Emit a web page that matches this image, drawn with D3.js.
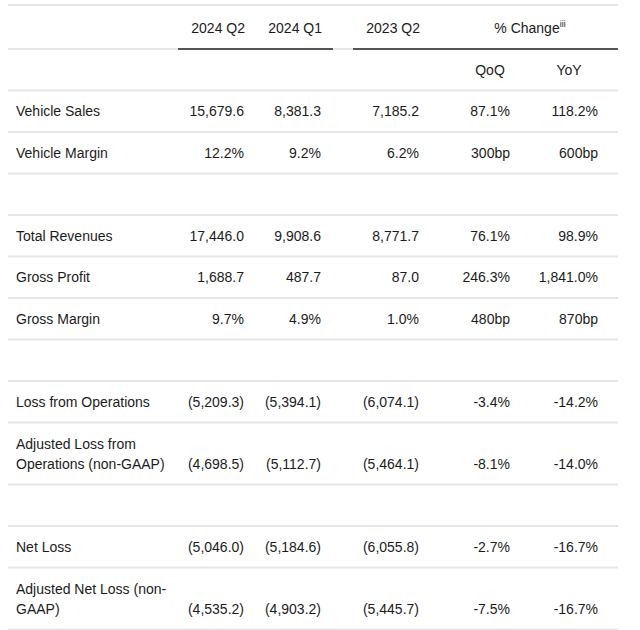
<!DOCTYPE html>
<html>
<head>
<meta charset="utf-8">
<script src="https://cdn.jsdelivr.net/npm/d3@7"></script>
<style>
  html, body { margin: 0; padding: 0; background: #fff; }
  svg { display: block; }
  text { font-family: "Liberation Sans", Arial, sans-serif; font-size: 14px; fill: #1b1b1b; }
</style>
</head>
<body>
<svg id="chart" width="640" height="630"></svg>
<script>
// ---- data ----
const periodHeaders = ["2024 Q2", "2024 Q1", "2023 Q2"];
const changeHeader = "% Change";
const changeSup = "iii";
const changeSubHeaders = ["QoQ", "YoY"];

// null = blank spacer row
const rowLabels = [
  ["Vehicle Sales"],
  ["Vehicle Margin"],
  null,
  ["Total Revenues"],
  ["Gross Profit"],
  ["Gross Margin"],
  null,
  ["Loss from Operations"],
  ["Adjusted Loss from", "Operations (non-GAAP)"],
  null,
  ["Net Loss"],
  ["Adjusted Net Loss (non-", "GAAP)"]
];
const q2_2024 = ["15,679.6", "12.2%", null, "17,446.0", "1,688.7", "9.7%", null, "(5,209.3)", "(4,698.5)", null, "(5,046.0)", "(4,535.2)"];
const q1_2024 = ["8,381.3", "9.2%", null, "9,908.6", "487.7", "4.9%", null, "(5,394.1)", "(5,112.7)", null, "(5,184.6)", "(4,903.2)"];
const q2_2023 = ["7,185.2", "6.2%", null, "8,771.7", "87.0", "1.0%", null, "(6,074.1)", "(5,464.1)", null, "(6,055.8)", "(5,445.7)"];
const qoq = ["87.1%", "300bp", null, "76.1%", "246.3%", "480bp", null, "-3.4%", "-8.1%", null, "-2.7%", "-7.5%"];
const yoy = ["118.2%", "600bp", null, "98.9%", "1,841.0%", "870bp", null, "-14.2%", "-14.0%", null, "-16.7%", "-16.7%"];

// ---- layout ----
const svg = d3.select("#chart");
const left = 8, right = 618;
const lightCol = "#e6e6e6", darkCol = "#555";

const colKeys = ["q2_2024", "q1_2024", "q2_2023", "qoq", "yoy"];
const colValues = [q2_2024, q1_2024, q2_2023, qoq, yoy];
const xRight = d3.scaleOrdinal().domain(colKeys).range([244, 321, 419, 510, 598]);
const xHeaderCenter = d3.scaleOrdinal().domain(["qoq", "yoy", "change"]).range([490, 569, 530]);

const singleH = 41.5, doubleH = 62;
const headerTop = 5, headerBottom = 49, subBottom = 90.5;
const heights = rowLabels.map(r => (r && r.length > 1) ? doubleH : singleH);
const bottoms = Array.from(d3.cumsum(heights), v => subBottom + v);
const tops = bottoms.map((b, i) => b - heights[i]);

// top line
svg.append("line").attr("x1", left).attr("x2", right).attr("y1", headerTop).attr("y2", headerTop)
  .attr("stroke", lightCol).attr("stroke-width", 2);

// header underline: light base, dark segments
svg.append("line").attr("x1", left).attr("x2", right).attr("y1", headerBottom).attr("y2", headerBottom)
  .attr("stroke", lightCol).attr("stroke-width", 2);
const darkSegs = [[178, 333], [353, right]];
svg.selectAll("line.dark").data(darkSegs).join("line").attr("class", "dark")
  .attr("x1", d => d[0]).attr("x2", d => d[1]).attr("y1", headerBottom).attr("y2", headerBottom)
  .attr("stroke", darkCol).attr("stroke-width", 2);

// sub-header bottom line + row lines
svg.selectAll("line.row").data([subBottom, ...bottoms]).join("line").attr("class", "row")
  .attr("x1", left).attr("x2", right).attr("y1", d => d).attr("y2", d => d)
  .attr("stroke", lightCol).attr("stroke-width", 2);

// header texts
svg.selectAll("text.ph").data(periodHeaders).join("text").attr("class", "ph")
  .attr("x", (d, i) => xRight(colKeys[i]) + 1).attr("y", headerBottom - 16)
  .attr("text-anchor", "end").text(d => d);

const ch = svg.append("text").attr("x", xHeaderCenter("change")).attr("y", headerBottom - 16)
  .attr("text-anchor", "middle");
ch.append("tspan").text(changeHeader);
ch.append("tspan").attr("dy", -6).style("font-size", "9px").text(changeSup);

svg.selectAll("text.sh").data(changeSubHeaders).join("text").attr("class", "sh")
  .attr("x", (d, i) => xHeaderCenter(["qoq", "yoy"][i])).attr("y", subBottom - 16)
  .attr("text-anchor", "middle").text(d => d);

// row labels
rowLabels.forEach((lines, i) => {
  if (!lines) return;
  const n = lines.length;
  svg.append("g").selectAll("text").data(lines).join("text")
    .attr("x", 16)
    .attr("y", (d, k) => bottoms[i] - 16 - (n - 1 - k) * 20)
    .text(d => d);
});

// values
colValues.forEach((vals, c) => {
  svg.append("g").selectAll("text").data(vals.map((v, i) => ({ v, i })).filter(d => d.v !== null))
    .join("text")
    .attr("x", xRight(colKeys[c]))
    .attr("y", d => bottoms[d.i] - 16)
    .attr("text-anchor", "end")
    .text(d => d.v);
});
</script>
</body>
</html>
